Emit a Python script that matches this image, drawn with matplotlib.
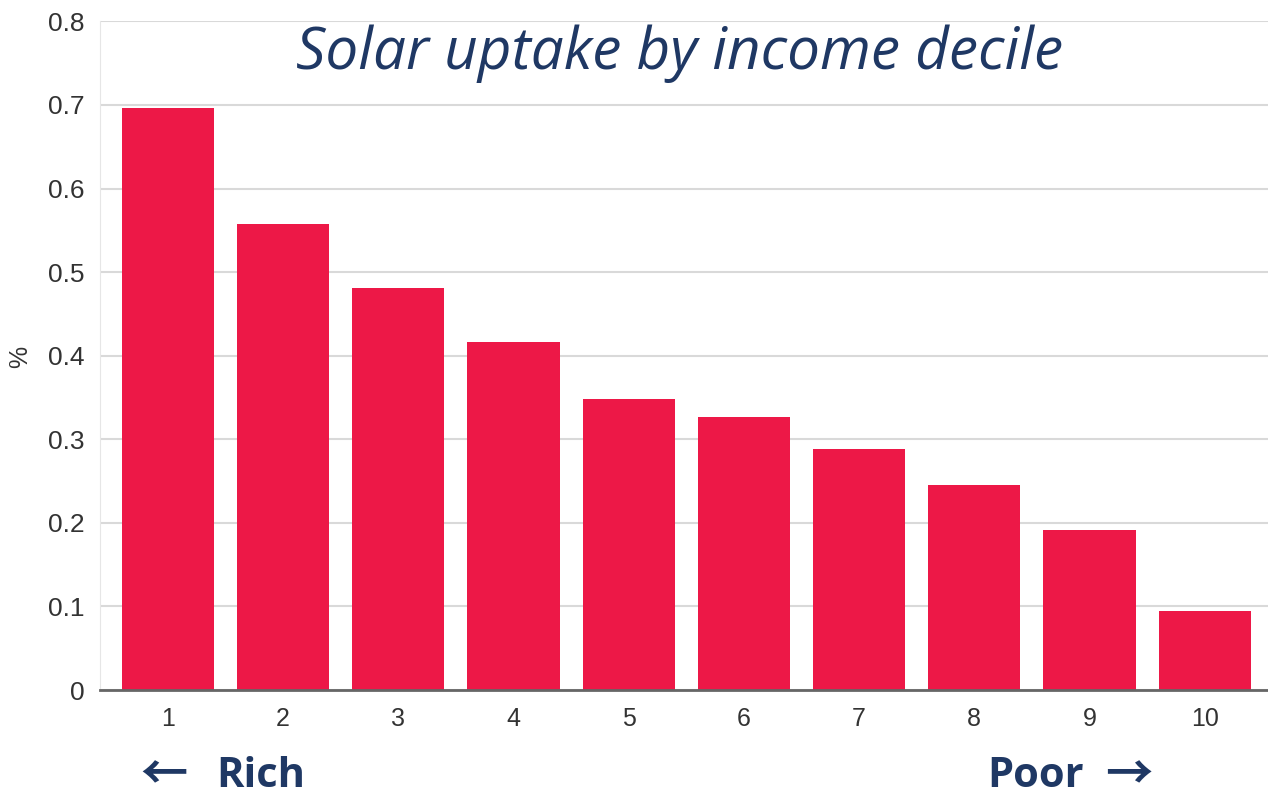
import matplotlib
matplotlib.use('Agg')
from matplotlib import pyplot as plt

# data
deciles = ['1', '2', '3', '4', '5', '6', '7', '8', '9', '10']
uptake = [0.696, 0.558, 0.481, 0.416, 0.348, 0.327, 0.288, 0.245, 0.191, 0.094]
y_ticks = [0, 0.1, 0.2, 0.3, 0.4, 0.5, 0.6, 0.7, 0.8]
y_tick_labels = ['0', '0.1', '0.2', '0.3', '0.4', '0.5', '0.6', '0.7', '0.8']

W, H = 1268, 797
fig = plt.figure(figsize=(W / 100, H / 100), dpi=100)
ax = fig.add_axes([100 / W, 1 - 690 / H, 1 - 100 / W, (690 - 21.4) / H])

x = list(range(1, len(deciles) + 1))
ax.bar(x, uptake, width=0.8, color='#ED1847', zorder=3)

ax.set_xlim(0.41, 10.55)
ax.set_ylim(0, 0.8)
ax.set_xticks(x)
ax.set_xticklabels(deciles, fontfamily='Liberation Sans', fontsize=18, color='#333333')
ax.set_yticks(y_ticks)
ax.set_yticklabels(y_tick_labels, fontfamily='Liberation Sans', fontsize=19, color='#333333')
ax.tick_params(axis='y', length=0, pad=11)
ax.tick_params(axis='x', length=0, pad=12)
ax.grid(axis='y', color='#d9d9d9', linewidth=1.5, zorder=0)

for s in ['top', 'right']:
    ax.spines[s].set_visible(False)
ax.spines['left'].set_color('#e6e6e6')
ax.spines['bottom'].set_color('#666666')
ax.spines['bottom'].set_linewidth(2)
ax.spines['bottom'].set_zorder(4)

fig.text(20 / W, 1 - 357 / H, '%', rotation=90, ha='center', va='center',
         fontfamily='Liberation Sans', fontsize=18, color='#333333')

navy = '#1F3864'
fams = ['Open Sans', 'DejaVu Sans']
arrow_fams = ['Noto Sans CJK JP', 'DejaVu Sans']
fig.text(680 / W, 1 - 54 / H, 'Solar uptake by income decile', ha='center', va='center',
         fontfamily='Open Sans', style='italic', fontsize=42, color=navy)

# Rich / Poor markers under the axis
fig.text(140 / W, 1 - 775 / H, '\u2190', ha='left', va='center',
         family=arrow_fams, fontweight='bold', fontsize=34, color=navy)
fig.text(216 / W, 1 - 787 / H, 'Rich', ha='left', va='baseline',
         family=fams, fontweight='bold', fontsize=30, color=navy)
fig.text(987 / W, 1 - 787 / H, 'Poor', ha='left', va='baseline',
         family=fams, fontweight='bold', fontsize=30, color=navy)
fig.text(1152 / W, 1 - 775 / H, '\u2192', ha='right', va='center',
         family=arrow_fams, fontweight='bold', fontsize=34, color=navy)

fig.savefig('out.png', dpi=100)
